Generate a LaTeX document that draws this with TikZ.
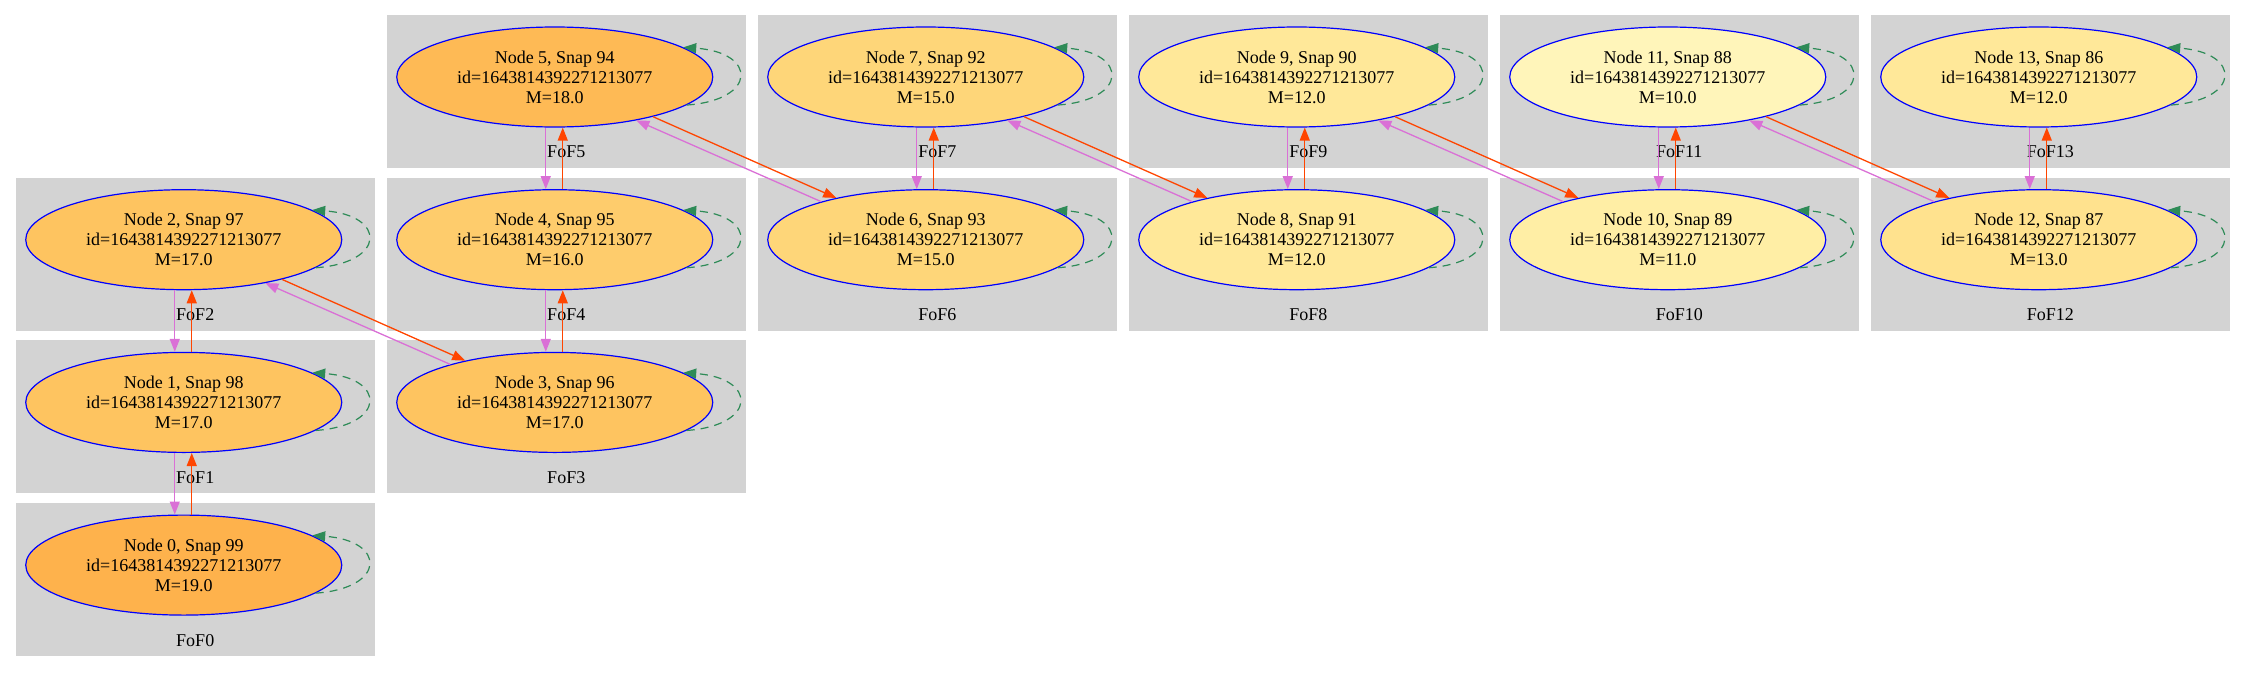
\documentclass[tikz,border=0pt]{standalone}
\usepackage{fontspec}
\setmainfont{Liberation Serif}
\usetikzlibrary{shapes.geometric,arrows.meta}
\definecolor{clusterbg}{HTML}{D3D3D3}
\definecolor{orchidc}{HTML}{DA70D6}
\definecolor{orangeredc}{HTML}{FF4500}
\definecolor{seagreenc}{HTML}{2E8B57}
\definecolor{mA}{HTML}{FEB24C}
\definecolor{mB}{HTML}{FEBA55}
\definecolor{mC}{HTML}{FEC460}
\definecolor{mD}{HTML}{FECC6C}
\definecolor{mE}{HTML}{FED679}
\definecolor{mF}{HTML}{FFE28E}
\definecolor{mG}{HTML}{FFE899}
\definecolor{mH}{HTML}{FFEEA5}
\definecolor{mI}{HTML}{FFF5BA}
\newcommand{\galfont}{\fontsize{18}{20}\selectfont}
\tikzset{
  galaxy/.style={ellipse, draw=blue, line width=1.2pt, minimum width=316pt,
    minimum height=100pt, inner sep=0pt, align=center, font=\galfont},
  foflabel/.style={inner sep=0pt, font=\galfont},
  clusterfill/.style={fill=clusterbg},
  descline/.style={draw=orchidc, line width=1.3pt, -{Triangle[length=13pt,width=10pt]}},
  progline/.style={draw=orangeredc, line width=1.3pt, -{Triangle[length=13pt,width=10pt]}},
  selfloop/.style={draw=seagreenc, line width=1.2pt, dash pattern=on 8pt off 6pt,
    -{Triangle[length=13pt,width=10pt]}},
}
\newcommand{\mycluster}[6]{%
  \pgfmathsetmacro{\bx}{15.5+371*#1}%
  \pgfmathsetmacro{\by}{15+162.7*#2}%
  \fill[clusterfill] (\bx,\by) rectangle ++(359.5,153);
  \node[foflabel] (fof#3) at (\bx+179.75,\by+137) {FoF#3};
  \node[galaxy, fill=#6] (n#3) at (\bx+168.25,\by+62) {Node #3, Snap #4\\id=1643814392271213077\\M=#5};
}
\newcommand{\myloop}[1]{%
  \draw[selfloop] (n#1.-12.9) .. controls +(71,-5) and +(74,5) .. (n#1.13.2);
}
\newcommand{\myvert}[2]{% upper, lower
  \draw[descline] ([xshift=-9pt]n#1.south) -- ([xshift=-9pt]n#2.north);
  \draw[progline] ([xshift=8pt]n#2.north) -- ([xshift=8pt]n#1.south);
}
\newcommand{\mydiag}[2]{% upper-left, lower-right
  \draw[progline] (n#1.-22.6) -- (n#2.155.9);
  \draw[descline] (n#2.160) -- (n#1.-28.2);
}
\begin{document}
\begin{tikzpicture}[x=1pt,y=-1pt]
\useasboundingbox (0,0) rectangle (2245,672);
\mycluster{0}{3}{0}{99}{19.0}{mA}
\mycluster{0}{2}{1}{98}{17.0}{mC}
\mycluster{0}{1}{2}{97}{17.0}{mC}
\mycluster{1}{2}{3}{96}{17.0}{mC}
\mycluster{1}{1}{4}{95}{16.0}{mD}
\mycluster{1}{0}{5}{94}{18.0}{mB}
\mycluster{2}{1}{6}{93}{15.0}{mE}
\mycluster{2}{0}{7}{92}{15.0}{mE}
\mycluster{3}{1}{8}{91}{12.0}{mG}
\mycluster{3}{0}{9}{90}{12.0}{mG}
\mycluster{4}{1}{10}{89}{11.0}{mH}
\mycluster{4}{0}{11}{88}{10.0}{mI}
\mycluster{5}{1}{12}{87}{13.0}{mF}
\mycluster{5}{0}{13}{86}{12.0}{mG}
\myvert{2}{1}
\myvert{1}{0}
\myvert{4}{3}
\myvert{5}{4}
\myvert{7}{6}
\myvert{9}{8}
\myvert{11}{10}
\myvert{13}{12}
\mydiag{2}{3}
\mydiag{5}{6}
\mydiag{7}{8}
\mydiag{9}{10}
\mydiag{11}{12}
\myloop{0}\myloop{1}\myloop{2}\myloop{3}\myloop{4}\myloop{5}\myloop{6}
\myloop{7}\myloop{8}\myloop{9}\myloop{10}\myloop{11}\myloop{12}\myloop{13}
\end{tikzpicture}
\end{document}
